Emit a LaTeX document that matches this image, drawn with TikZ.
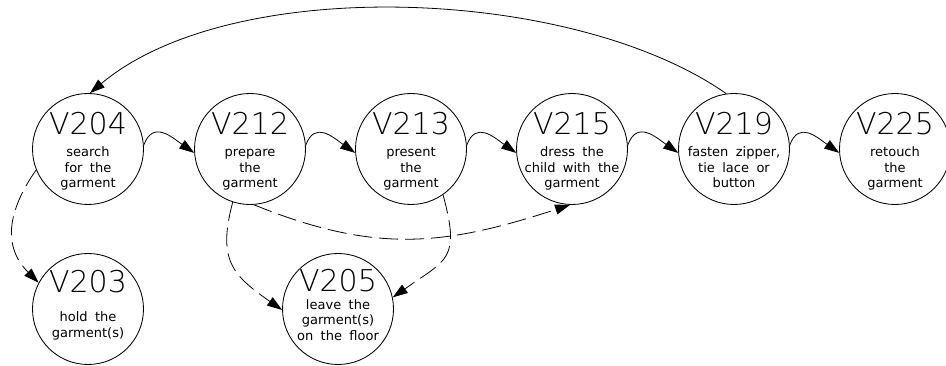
\documentclass[tikz,border=0pt]{standalone}
\usepackage{fontspec}
\setmainfont{DejaVu Sans}[WordSpace=1.8]
\newfontfamily\thinfont{DejaVu Sans ExtraLight}
\usetikzlibrary{arrows.meta,calc}

\tikzset{
  x=1pt,y=1pt,
  state/.style={circle,draw,line width=0.85pt,minimum size=111pt,inner sep=0pt},
  numlabel/.style={anchor=base,inner sep=0pt,font=\thinfont\fontsize{30}{30}\selectfont},
  txt/.style={anchor=base,inner sep=0pt,font=\fontsize{13}{15}\selectfont},
  flow/.style={line width=0.8pt,-{Triangle[length=15pt,width=10pt]}},
  alt/.style={flow,dash pattern=on 19pt off 7pt},
  hop/.style={flow,out=70,in=145,looseness=1.35},
}

% #1 node name, #2 number, #3 baseline of number, #4 baseline of first line, #5 lines
\newcommand\putstate[5]{%
  \node[numlabel] (#1-num) at ($(#1)+(0,#3)$) {#2};
  \foreach \ln [count=\k] in {#5}
    \node[txt] (#1-t\k) at ($(#1)+(0,{#4-15.5*(\k-1)})$) {\ln};
}

\begin{document}
\begin{tikzpicture}
\useasboundingbox (0,0) rectangle (946,366);

% main sequence
\node[state] (v204) at (88,217) {};
\node[state] (v212) at (250,217) {};
\node[state] (v213) at (411,217) {};
\node[state] (v215) at (572,217) {};
\node[state] (v219) at (734,217) {};
\node[state] (v225) at (895,217) {};
% side states
\node[state] (v203) at (88,57) {};
\node[state] (v205) at (338,57) {};

\putstate{v204}{V204}{14}{-8}{search,for the,garment}
\putstate{v212}{V212}{14}{-8}{prepare,the,garment}
\putstate{v213}{V213}{14}{-8}{present,the,garment}
\putstate{v215}{V215}{14}{-8}{dress the,child with the,garment}
\putstate{v219}{V219}{14}{-8}{{fasten zipper,},tie lace or,button}
\putstate{v225}{V225}{14}{-8}{retouch,the,garment}
\putstate{v203}{V203}{16}{-13}{hold the,garment(s)}
\putstate{v205}{V205}{17}{-0.5}{leave the,garment(s),on the floor}

% forward steps
\draw[hop] (v204.4) to (v212.184);
\draw[hop] (v212.4) to (v213.184);
\draw[hop] (v213.4) to (v215.184);
\draw[hop] (v215.4) to (v219.184);
\draw[hop] (v219.4) to (v225.184);

% loop back
\draw[flow] (v219.98) to[out=145,in=40,looseness=0.75] (v204.88);

% optional transitions
\draw[alt] (v204.202) to[out=235,in=135,looseness=1.15] (v203.152);
\draw[alt] (v212.252) to[out=255,in=145,looseness=1.3] (v205.181);
\draw[alt] (v213.305) to[out=285,in=35,looseness=1.5] (v205.12);
\draw[alt] (v212.274) to[out=-22,in=198,looseness=1.07] (v215.268);
\end{tikzpicture}
\end{document}
